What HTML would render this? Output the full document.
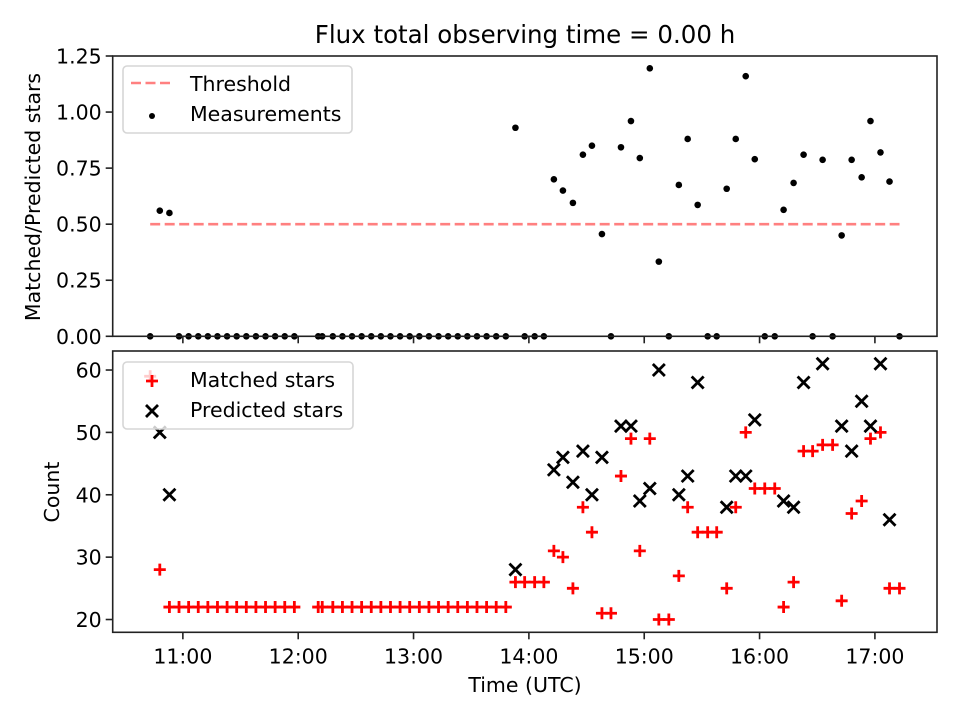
<!DOCTYPE html>
<html><head><meta charset="utf-8"><style>
html,body{margin:0;padding:0;background:#fff;}
svg{display:block;font-family:"DejaVu Sans","Liberation Sans",sans-serif;}
</style></head><body>
<svg id="chart" width="960" height="720" viewBox="0 0 960 720">
<text x="525" y="43" text-anchor="middle" font-size="24.5">Flux total observing time = 0.00 h</text>
<g id="topPanel"></g>
<g id="botPanel"></g>
<text x="525" y="692" text-anchor="middle" font-size="20.5">Time (UTC)</text>
<text transform="translate(40,197) rotate(-90)" text-anchor="middle" font-size="20.5">Matched/Predicted stars</text>
<text transform="translate(59,492) rotate(-90)" text-anchor="middle" font-size="20.5">Count</text>
</svg>
<script>
// minutes after 10:00 UTC
const times = [43,48,53,58,63,68,73,78,83,88,93,98,103,108,113,118,
130.4,132.5,138,143,148,153,158,163,168,173,178,183,188,193,198,203,208,213,218,223,228,
233,237.8,243,247.8,253,257.7,262.9,268.1,272.8,278,282.7,287.9,293.1,297.7,302.9,307.6,312.8,318,322.6,327.8,333,337.7,342.9,347.6,352.8,357.5,362.7,367.9,372.5,377.7,382.9,387.6,392.8,398,402.7,407.9,413.1,417.7,422.9,427.6,432.8];
const ratio = [0,0.56,0.55,0,0,0,0,0,0,0,0,0,0,0,0,0,
0,0,0,0,0,0,0,0,0,0,0,0,0,0,0,0,0,0,0,0,0,
0.93,0,0,0,0.70,0.65,0.595,0.81,0.85,0.456,0,0.843,0.96,0.795,1.195,0.333,0,0.675,0.88,0.586,0,0,0.658,0.88,1.16,0.79,0,0,0.564,0.684,0.81,0,0.787,0,0.45,0.787,0.709,0.96,0.82,0.69,0];
const matched = [59,28,22,22,22,22,22,22,22,22,22,22,22,22,22,22,
22,22,22,22,22,22,22,22,22,22,22,22,22,22,22,22,22,22,22,22,22,
26,26,26,26,31,30,25,38,34,21,21,43,49,31,49,20,20,27,38,34,34,34,25,38,50,41,41,41,22,26,47,47,48,48,23,37,39,49,50,25,25];
const predicted = [null,50,40,null,null,null,null,null,null,null,null,null,null,null,null,null,
null,null,null,null,null,null,null,null,null,null,null,null,null,null,null,null,null,null,null,null,null,
28,null,null,null,44,46,42,47,40,46,null,51,51,39,41,60,null,40,43,58,null,null,38,43,43,52,null,null,39,38,58,null,61,null,51,47,55,51,61,36,null];
const threshold = 0.5;
const xTickLabels = ["11:00","12:00","13:00","14:00","15:00","16:00","17:00"];
const xTickMinutes = [60,120,180,240,300,360,420];
const topTicks = [0,0.25,0.5,0.75,1.0,1.25];
const botTicks = [20,30,40,50,60];

const NS="http://www.w3.org/2000/svg";
const L=112.7,R=937;
const xMin=23.5,xMax=452.3;
function X(t){return L+(t-xMin)/(xMax-xMin)*(R-L);}
const tT=56,tB=336.3;
function YT(v){return tB-(v-0)/1.25*(tB-tT);}
const bT=351,bB=632.3,bMin=17.95,bMax=63.05;
function YB(v){return bB-(v-bMin)/(bMax-bMin)*(bB-bT);}
function el(tag,attrs,parent){const e=document.createElementNS(NS,tag);for(const k in attrs)e.setAttribute(k,attrs[k]);parent.appendChild(e);return e;}

const gTop=document.getElementById('topPanel'), gBot=document.getElementById('botPanel');
const FS=20.5;

function frame(g,y0,y1,yticks,Yf,fmt,prefix){
  xTickMinutes.forEach((m,i)=>{
    const t=el('line',{x1:X(m),x2:X(m),y1:y1,y2:y1+7,stroke:'#222','stroke-width':1.6},g);
    
    
    if(prefix==='bottom'){
      const lb=el('text',{x:X(m),y:y1+31,'text-anchor':'middle','font-size':FS},g);
      
      
      lb.textContent=xTickLabels[i];
    }
  });
  yticks.forEach(v=>{
    const y=Yf(v);
    const t=el('line',{x1:L-7,x2:L,y1:y,y2:y,stroke:'#222','stroke-width':1.6},g);
    
    
    const lb=el('text',{x:L-11,y:y+7.5,'text-anchor':'end','font-size':FS},g);
    
    
    lb.textContent=fmt(v);
  });
}

// top panel
frame(gTop,tT,tB,topTicks,YT,v=>v.toFixed(2),'top');
const th=el('line',{x1:X(times[0]),x2:X(times[times.length-1]),y1:YT(threshold),y2:YT(threshold),stroke:'#ff8080','stroke-width':2.6,'stroke-dasharray':'10,4.5'},gTop);


times.forEach((t,i)=>{
  const c=el('circle',{cx:X(t),cy:YT(ratio[i]),r:3.3,fill:'#000'},gTop);
  
  
});
const fr1=el('rect',{x:L,y:tT,width:R-L,height:tB-tT,fill:'none',stroke:'#222','stroke-width':1.6},gTop);



// bottom panel
frame(gBot,bT,bB,botTicks,YB,v=>String(v),'bottom');
function plus(g,x,y){return el('path',{d:`M${x-6},${y}H${x+6}M${x},${y-6}V${y+6}`,stroke:'#f00','stroke-width':2.8,fill:'none'},g);}
function cross(g,x,y){return el('path',{d:`M${x-6},${y-6}L${x+6},${y+6}M${x-6},${y+6}L${x+6},${y-6}`,stroke:'#000','stroke-width':2.8,fill:'none'},g);}
times.forEach((t,i)=>{
  const p=plus(gBot,X(t),YB(matched[i]));
  
  
});
times.forEach((t,i)=>{
  if(predicted[i]===null)return;
  const p=cross(gBot,X(t),YB(predicted[i]));
  
  
});
const fr2=el('rect',{x:L,y:bT,width:R-L,height:bB-bT,fill:'none',stroke:'#222','stroke-width':1.6},gBot);



// legends
function legend(g,y,w,name){
  const b=el('rect',{x:123,y:y,width:w,height:67,rx:4,fill:'#fff','fill-opacity':0.8,stroke:'#d6d6d6','stroke-width':1.6},g);
  
  
}
legend(gTop,66,229,'top-legend');
let ln=el('line',{x1:131,x2:173,y1:83,y2:83,stroke:'#ff8080','stroke-width':2.6,'stroke-dasharray':'10,4.5'},gTop);


let tx=el('text',{x:190,y:91,'font-size':FS},gTop);


tx.textContent='Threshold';
let dm=el('circle',{cx:152,cy:116,r:3,fill:'#000'},gTop);


tx=el('text',{x:190,y:121,'font-size':FS},gTop);


tx.textContent='Measurements';

legend(gBot,362,230,'bottom-legend');
let pm=plus(gBot,152,381);


tx=el('text',{x:190,y:387,'font-size':FS},gBot);


tx.textContent='Matched stars';
let cm=cross(gBot,152,411);


tx=el('text',{x:190,y:417,'font-size':FS},gBot);


tx.textContent='Predicted stars';
</script>
</body></html>
